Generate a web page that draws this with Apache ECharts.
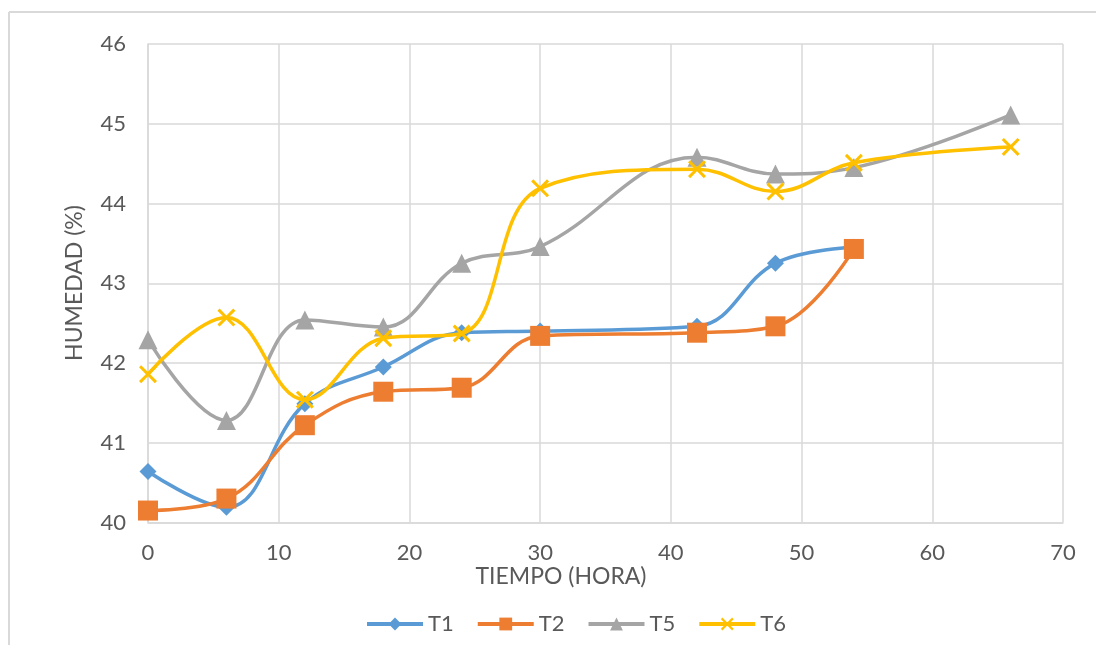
<!DOCTYPE html>
<html>
<head>
<meta charset="utf-8">
<script src="https://cdn.jsdelivr.net/npm/echarts@6/dist/echarts.min.js"></script>
<style>
  html, body { margin: 0; padding: 0; background: #fff; }
  #chart { width: 1096px; height: 645px; }
</style>
</head>
<body>
<div id="chart"></div>
<script>
// Sampling times (hours)
const horas = [0, 6, 12, 18, 24, 30, 42, 48, 54, 66];

// Moisture (%) per treatment
const t1 = [40.64, 40.19, 41.49, 41.95, 42.38, 42.40, 42.46, 43.25, 43.45];
const t2 = [40.15, 40.30, 41.22, 41.64, 41.69, 42.34, 42.38, 42.46, 43.43];
const t5 = [42.29, 41.28, 42.54, 42.45, 43.25, 43.46, 44.58, 44.37, 44.45, 45.11];
const t6 = [41.86, 42.57, 41.54, 42.31, 42.37, 44.19, 44.43, 44.15, 44.51, 44.71];

const names = ['T1', 'T2', 'T5', 'T6'];
const colors = ['#5B9BD5', '#ED7D31', '#A5A5A5', '#FFC000'];

const xTicks = [0, 10, 20, 30, 40, 50, 60, 70];
const yTicks = [40, 41, 42, 43, 44, 45, 46];

const textColor = '#595959';
const gridColor = '#D9D9D9';
const font = 'Lato, "Open Sans", sans-serif';

function pairs(vals) {
  return vals.map((v, i) => [horas[i], v]);
}

// "x" marker drawn as a filled outline
const crossPath = 'path://M0,1.2 L1.2,0 L5,3.8 L8.8,0 L10,1.2 L6.2,5 L10,8.8 L8.8,10 L5,6.2 L1.2,10 L0,8.8 L3.8,5 Z';

const symbols = ['diamond', 'rect', 'triangle', crossPath];
const sizes = [17, 20, 19, 18];
const seriesVals = [t1, t2, t5, t6];

const chart = echarts.init(document.getElementById('chart'), null, { renderer: 'canvas' });

chart.setOption({
  backgroundColor: '#fff',
  animation: false,
  grid: { left: 148, right: 33, top: 44, bottom: 122.5, containLabel: false },
  xAxis: {
    type: 'value',
    min: xTicks[0],
    max: xTicks[xTicks.length - 1],
    interval: xTicks[1] - xTicks[0],
    axisLine: { show: true, lineStyle: { color: gridColor, width: 1.5 } },
    axisTick: { show: false },
    axisLabel: { color: textColor, fontSize: 22, fontFamily: font, margin: 19 },
    splitLine: { show: true, lineStyle: { color: gridColor, width: 1.5 } }
  },
  yAxis: {
    type: 'value',
    min: yTicks[0],
    max: yTicks[yTicks.length - 1],
    interval: yTicks[1] - yTicks[0],
    axisLine: { show: true, lineStyle: { color: gridColor, width: 1.5 } },
    axisTick: { show: false },
    axisLabel: { color: textColor, fontSize: 22, fontFamily: font, margin: 22 },
    splitLine: { show: true, lineStyle: { color: gridColor, width: 1.5 } }
  },
  legend: {
    left: 360,
    top: 608,
    itemWidth: 56,
    itemHeight: 16,
    itemGap: 22,
    lineStyle: { width: 4 },
    textStyle: { color: textColor, fontSize: 22, fontFamily: font },
    data: names.map((n, i) => ({ name: n, lineStyle: { width: 4, color: colors[i] } }))
  },
  graphic: [
    // chart area frame (top and left edges)
    { type: 'line', shape: { x1: 9, y1: 12, x2: 1096, y2: 12 }, style: { stroke: '#D9D9D9', lineWidth: 2 } },
    { type: 'line', shape: { x1: 9, y1: 12, x2: 9, y2: 645 }, style: { stroke: '#D9D9D9', lineWidth: 2 } },
    {
      type: 'text', rotation: Math.PI / 2, x: 75, y: 283,
      style: { text: 'HUMEDAD (%)', fill: textColor, font: '23px ' + font, textAlign: 'center', textVerticalAlign: 'middle' }
    },
    {
      type: 'text', x: 561, y: 577,
      style: { text: 'TIEMPO (HORA)', fill: textColor, font: '23px ' + font, textAlign: 'center', textVerticalAlign: 'middle' }
    }
  ],
  series: names.map((n, i) => ({
    name: n,
    type: 'line',
    smooth: 0.4,
    data: pairs(seriesVals[i]),
    symbol: symbols[i],
    symbolSize: sizes[i],
    color: colors[i],
    lineStyle: { color: colors[i], width: 3.5 },
    itemStyle: { color: colors[i] },
    z: 2 + i
  }))
});
</script>
</body>
</html>
